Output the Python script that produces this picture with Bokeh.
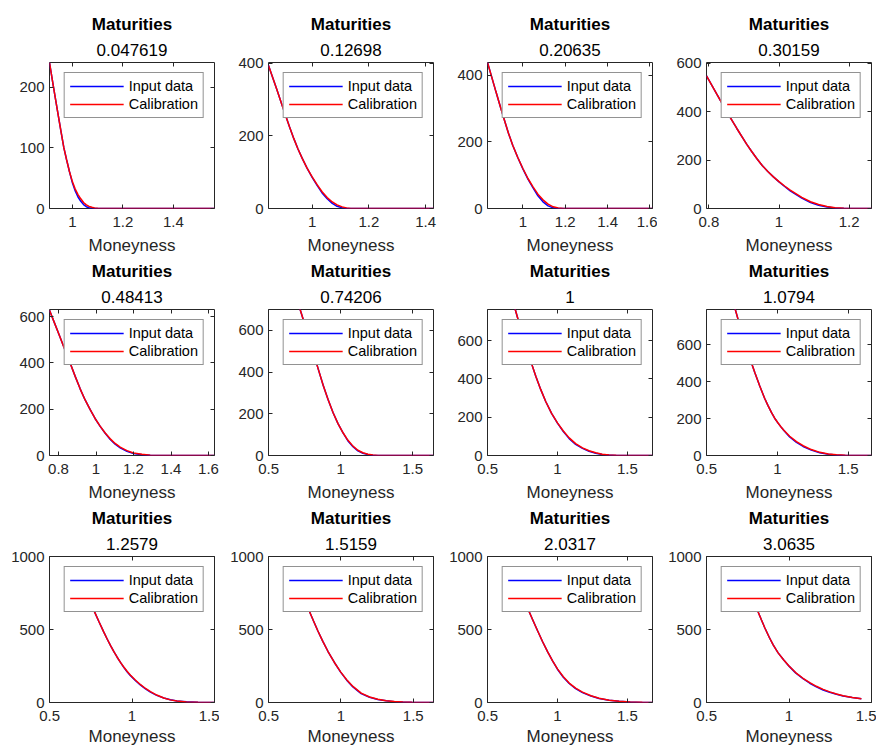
from bokeh.plotting import figure
from bokeh.layouts import column, row
from bokeh.models import (Range1d, FixedTicker, CustomJSTickFormatter, Title,
                          Legend, LegendItem, LinearAxis)
from bokeh.embed import file_html
from bokeh.resources import INLINE

FONT = "Liberation Sans"
DARK = "#262626"

# ---------------- data ----------------
maturities = [0.047619, 0.12698, 0.20635, 0.30159, 0.48413, 0.74206,
              1.0, 1.0794, 1.2579, 1.5159, 2.0317, 3.0635]

m1 = [0.909, 0.925, 0.94, 0.955, 0.966, 0.977, 0.988, 1.0, 1.011, 1.022, 1.033, 1.044,
      1.055, 1.066, 1.077, 1.088, 1.1, 1.11, 1.3, 1.563]
in1 = [241, 200, 163, 126, 100, 80, 61, 42, 29, 19, 12, 6.5, 3, 1.2, 0.4, 0, 0, 0, 0, 0]
cal1 = [241, 200, 163, 126, 100, 80, 61, 44, 32, 23, 16, 10, 6, 3.5, 2, 1, 0.3, 0, 0, 0]

m2 = [0.846, 0.861, 0.876, 0.891, 0.906, 0.92, 0.935, 0.95, 0.965, 0.982, 1.0, 1.018,
      1.035, 1.053, 1.071, 1.088, 1.106, 1.121, 1.136, 1.15, 1.3, 1.428]
in2 = [394, 360, 326, 291, 257, 225, 193, 164, 138, 111, 86, 63, 43, 27, 14, 6, 2, 0.5,
       0, 0, 0, 0]
cal2 = [394, 360, 326, 291, 257, 225, 193, 164, 138, 111, 87, 65, 46, 30, 18, 10, 4.5,
        1.5, 0.3, 0, 0, 0]

m3 = [0.833, 0.853, 0.873, 0.893, 0.913, 0.932, 0.952, 0.976, 1.0, 1.024, 1.048, 1.071,
      1.095, 1.119, 1.143, 1.167, 1.191, 1.3, 1.612]
in3 = [438, 394, 350, 307, 265, 226, 190, 153, 119, 88, 62, 38, 20, 8, 2, 0.3, 0, 0, 0]
cal3 = [438, 394, 350, 307, 265, 226, 190, 153, 120, 90, 65, 43, 26, 13, 5, 1.5, 0, 0, 0]

m4 = [0.793, 0.822, 0.851, 0.88, 0.908, 0.922, 0.937, 0.952, 0.968, 0.984, 1.0, 1.016,
      1.032, 1.065, 1.09, 1.113, 1.137, 1.16, 1.185, 1.21, 1.264]
in4 = [549, 474, 400, 330, 265, 236, 206, 178, 153, 131, 110, 91, 73, 43, 25, 13.5, 6.5,
       2.5, 0.6, 0, 0]
cal4 = [549, 474, 400, 330, 265, 236, 206, 178, 153, 131, 111, 93, 76, 46, 28, 16.5, 8.5,
        3.5, 1, 0, 0]

m5 = [0.752, 0.78, 0.809, 0.835, 0.862, 0.889, 0.916, 0.942, 0.969, 0.995, 1.022, 1.049,
      1.076, 1.102, 1.129, 1.165, 1.2, 1.245, 1.289, 1.33, 1.632]
in5 = [628, 570, 510, 455, 400, 342, 287, 240, 198, 160, 126, 96, 69, 49, 33, 18, 9,
       3.5, 0.8, 0, 0]
cal5 = [628, 570, 510, 455, 400, 342, 287, 240, 198, 160, 127, 97, 72, 52, 36, 21, 11,
        5, 1.5, 0, 0]

m6 = [0.70, 0.719, 0.765, 0.81, 0.845, 0.879, 0.913, 0.948, 0.982, 1.017, 1.05, 1.086,
      1.12, 1.155, 1.19, 1.224, 1.26, 1.3, 1.645]
in6 = [745, 700, 598, 495, 414, 337, 268, 205, 153, 108, 71, 42, 22, 11, 4.5, 1.5, 0.2,
       0, 0]
cal6 = [745, 700, 598, 495, 414, 337, 268, 205, 153, 109, 74, 45, 25, 13, 6, 2, 0.5,
        0, 0]

m7 = [0.68, 0.698, 0.736, 0.774, 0.81, 0.845, 0.88, 0.916, 0.958, 1.0, 1.042, 1.084,
      1.13, 1.179, 1.226, 1.274, 1.32, 1.369, 1.42, 1.47, 1.68]
in7 = [810, 762, 664, 570, 490, 414, 345, 282, 220, 169, 125, 88, 58, 37, 22, 12, 5.5,
       2, 0.4, 0, 0]
cal7 = [810, 762, 664, 570, 490, 414, 345, 282, 220, 170, 128, 92, 62, 40, 25, 14, 7,
        3, 0.8, 0, 0]

m8 = [0.69, 0.702, 0.736, 0.769, 0.805, 0.84, 0.875, 0.91, 0.934, 0.958, 0.98, 1.005,
      1.025, 1.046, 1.087, 1.135, 1.182, 1.24, 1.3, 1.36, 1.417, 1.48, 1.545, 1.665]
in8 = [815, 792, 700, 612, 528, 450, 377, 310, 270, 233, 203, 175, 155, 135, 100, 71,
       49, 29, 14.5, 6.5, 3, 0.5, 0, 0]
cal8 = [815, 792, 700, 612, 528, 450, 377, 310, 270, 233, 203, 176, 156, 137, 104, 75,
        53, 32, 17, 8, 4, 1, 0, 0]

m9 = [0.70, 0.735, 0.768, 0.799, 0.829, 0.85, 0.87, 0.89, 0.91, 0.93, 0.95, 0.97,
      0.991, 1.02, 1.052, 1.082, 1.112, 1.15, 1.193, 1.233, 1.273, 1.33, 1.4, 1.5]
in9 = [814, 719, 633, 555, 482, 433, 389, 348, 310, 275, 241, 211, 184, 151, 119, 93,
       71, 49, 31, 19, 11, 5, 1.5, 0.2]
cal9 = [814, 719, 633, 555, 482, 433, 389, 348, 310, 275, 243, 214, 187, 154, 122, 96,
        74, 51, 31, 18, 10, 4, 1, 0]

m10 = [0.70, 0.74, 0.779, 0.81, 0.841, 0.875, 0.91, 0.955, 0.998, 1.04, 1.083, 1.14,
       1.198, 1.255, 1.313, 1.37, 1.428, 1.49, 1.544, 1.64]
in10 = [815, 722, 632, 560, 490, 419, 351, 274, 208, 153, 107, 61, 36, 21, 11.5, 6,
        2.8, 1, 0.3, 0]
cal10 = [815, 722, 632, 560, 490, 419, 351, 274, 210, 156, 110, 64, 38, 22, 12, 6.3,
         2.8, 1, 0.3, 0]

m11 = [0.72, 0.757, 0.793, 0.825, 0.857, 0.893, 0.929, 0.965, 1.0, 1.042, 1.084, 1.13,
       1.179, 1.24, 1.298, 1.37, 1.441, 1.52, 1.607, 1.68]
in11 = [797, 713, 632, 562, 493, 418, 349, 285, 228, 173, 130, 95, 68, 44, 27.5, 15,
        8, 3, 0.8, 0.2]
cal11 = [797, 713, 632, 562, 493, 418, 349, 285, 230, 176, 133, 98, 71, 46, 29, 16,
         8.5, 3.5, 1, 0.3]

m12 = [0.74, 0.776, 0.809, 0.833, 0.853, 0.88, 0.904, 0.934, 0.967, 1.0, 1.04, 1.085,
       1.126, 1.166, 1.207, 1.247, 1.288, 1.328, 1.384, 1.439]
in12 = [823, 722, 630, 565, 512, 447, 395, 340, 293, 249, 203, 163, 132, 107, 86, 70,
        56, 45, 33.5, 25]
cal12 = [823, 722, 630, 565, 512, 447, 395, 340, 293, 250, 205, 166, 136, 111, 90, 73,
         58, 46, 34, 25]

moneyness = [m1, m2, m3, m4, m5, m6, m7, m8, m9, m10, m11, m12]
input_data = [in1, in2, in3, in4, in5, in6, in7, in8, in9, in10, in11, in12]
calibration = [cal1, cal2, cal3, cal4, cal5, cal6, cal7, cal8, cal9, cal10, cal11, cal12]

x_limits = [(0.909, 1.563), (0.846, 1.428), (0.833, 1.612), (0.793, 1.264),
            (0.752, 1.632), (0.4995, 1.645), (0.4995, 1.68), (0.4995, 1.665),
            (0.4995, 1.5005), (0.4995, 1.64), (0.4995, 1.68), (0.4995, 1.5005)]
y_limits = [(0, 241), (0, 402), (0, 438), (0, 604),
            (0, 631), (0, 700), (0, 762), (0, 790),
            (0, 1000), (0, 1000), (0, 1000), (0, 1000)]
x_ticks = [[1, 1.2, 1.4], [1, 1.2, 1.4], [1, 1.2, 1.4, 1.6], [0.8, 1, 1.2],
           [0.8, 1, 1.2, 1.4, 1.6], [0.5, 1, 1.5], [0.5, 1, 1.5], [0.5, 1, 1.5],
           [0.5, 1, 1.5], [0.5, 1, 1.5], [0.5, 1, 1.5], [0.5, 1, 1.5]]
y_ticks = [[0, 100, 200], [0, 200, 400], [0, 200, 400], [0, 200, 400, 600],
           [0, 200, 400, 600], [0, 200, 400, 600], [0, 200, 400, 600], [0, 200, 400, 600],
           [0, 500, 1000], [0, 500, 1000], [0, 500, 1000], [0, 500, 1000]]

series_labels = ["Input data", "Calibration"]
title_top = "Maturities"
x_label = "Moneyness"

# ---------------- layout constants ----------------
FRAME_W, FRAME_H = 165, 146
LEFT, RIGHT = 49, 5
TOPS = [62, 51, 51]
BOTTOMS = [50, 50, 47]
LABEL_STANDOFF = [6, 6, 3]

fmt = CustomJSTickFormatter(code="return String(Math.round(tick*10000)/10000);")


def style_axis(ax, ticks, show_labels=True):
    ax.ticker = FixedTicker(ticks=ticks)
    ax.axis_line_color = None
    ax.major_tick_in = 4
    ax.major_tick_out = 0
    ax.major_tick_line_color = DARK
    ax.minor_tick_line_color = None
    ax.formatter = fmt
    ax.major_label_text_font = FONT
    if show_labels:
        ax.major_label_text_font_size = "15px"
        ax.major_label_text_color = DARK
    else:
        ax.major_label_text_font_size = "1px"
        ax.major_label_text_color = None
        ax.major_label_standoff = 0


panels = []
for i in range(12):
    r, c = divmod(i, 4)
    top, bottom = TOPS[r], BOTTOMS[r]
    p = figure(width=LEFT + FRAME_W + RIGHT, height=top + FRAME_H + bottom,
               x_range=Range1d(*x_limits[i]), y_range=Range1d(*y_limits[i]),
               output_backend="svg", toolbar_location=None, title=None,
               min_border_left=LEFT, min_border_right=RIGHT,
               min_border_top=top, min_border_bottom=bottom)
    p.xgrid.visible = False
    p.ygrid.visible = False
    p.outline_line_color = DARK
    p.outline_line_width = 1
    p.background_fill_color = "white"
    p.border_fill_color = "white"

    style_axis(p.xaxis[0], x_ticks[i])
    style_axis(p.yaxis[0], y_ticks[i])
    p.xaxis[0].major_label_standoff = 8
    p.yaxis[0].major_label_standoff = 5
    p.xaxis[0].axis_label = x_label
    p.xaxis[0].axis_label_text_font = FONT
    p.xaxis[0].axis_label_text_font_size = "17px"
    p.xaxis[0].axis_label_text_font_style = "normal"
    p.xaxis[0].axis_label_text_color = DARK
    p.xaxis[0].axis_label_standoff = LABEL_STANDOFF[r]

    # mirrored ticks (box on)
    ax_r = LinearAxis()
    style_axis(ax_r, y_ticks[i], show_labels=False)
    p.add_layout(ax_r, "right")
    ax_t = LinearAxis()
    style_axis(ax_t, x_ticks[i], show_labels=False)
    p.add_layout(ax_t, "above")

    p.add_layout(Title(text=f"{maturities[i]:.5g}", align="center", text_font=FONT,
                       text_font_size="17px", text_font_style="normal",
                       text_color="black", standoff=14), "above")
    p.add_layout(Title(text=title_top, align="center", text_font=FONT,
                       text_font_size="17px", text_font_style="bold",
                       text_color="black", standoff=2), "above")

    r_in = p.line(moneyness[i], input_data[i], line_color="#0000FF", line_width=1.5)
    r_cal = p.line(moneyness[i], calibration[i], line_color="#FF0000", line_width=1.5)

    legend = Legend(items=[LegendItem(label=series_labels[0], renderers=[r_in]),
                           LegendItem(label=series_labels[1], renderers=[r_cal])],
                    location="top_right", margin=10, padding=5, spacing=2,
                    glyph_width=54, glyph_height=16, label_height=16,
                    label_standoff=5, label_text_font=FONT,
                    label_text_font_size="14.5px", label_text_color="black",
                    border_line_color=DARK, border_line_width=1,
                    background_fill_color="white", background_fill_alpha=1.0)
    p.add_layout(legend)
    panels.append(p)

layout = column(*[row(*panels[k * 4:(k + 1) * 4]) for k in range(3)])

open("out.html", "w").write(file_html(layout, INLINE))
